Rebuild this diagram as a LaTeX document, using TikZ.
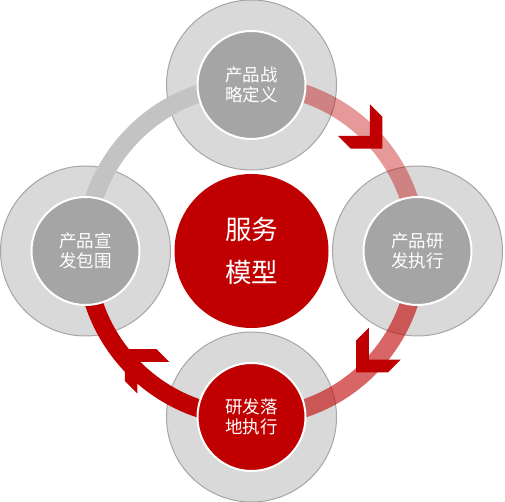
\documentclass[tikz,border=0pt]{standalone}
\usepackage{fontspec}
\usetikzlibrary{calc}
\newfontfamily\cjk{Noto Sans CJK SC}
\definecolor{myred}{HTML}{C00000}
\definecolor{outergray}{HTML}{D9D9D9}
\definecolor{bordergray}{HTML}{A6A6A6}
\definecolor{innergray}{HTML}{A5A5A5}
\definecolor{ringgray}{HTML}{C3C3C3}
\begin{document}
\begin{tikzpicture}[x=1pt,y=1pt,
  outerc/.style={circle, minimum size=170pt, inner sep=0pt, fill=outergray, draw=bordergray, line width=1pt},
  innerc/.style={circle, minimum size=108pt, inner sep=0pt, fill=innergray, draw=white, line width=2pt,
     text=white, align=center, font=\cjk\fontsize{17.5}{20}\selectfont},
  ring/.style={line width=18pt},
  chev/.style={fill=myred, draw=none},
]
\useasboundingbox (0,0) rectangle (505,502);
\coordinate (C) at (251.5,251);
% outer circles
\node[outerc] (oT) at (251.5,417) {};
\node[outerc] (oR) at (417.5,251) {};
\node[outerc] (oB) at (251.5,85) {};
\node[outerc] (oL) at (85.5,251) {};
% ring arcs
\draw[ring, ringgray] (oT.center) arc[start angle=90, end angle=180, radius=166];
\draw[ring, myred, opacity=0.4] (oT.center) arc[start angle=90, end angle=0, radius=166];
\draw[ring, myred, opacity=0.6] (oR.center) arc[start angle=0, end angle=-90, radius=166];
\draw[ring, myred] (oB.center) arc[start angle=-90, end angle=-180, radius=166];
% inner circles
\node[innerc] (iT) at (oT.center) {产品战\\略定义};
\node[innerc] (iR) at (oR.center) {产品研\\发执行};
\node[innerc, fill=myred] (iB) at (oB.center) {研发落\\地执行};
\node[innerc] (iL) at (oL.center) {产品宣\\发包围};
% center
\node[circle, minimum size=154pt, inner sep=0pt, fill=myred, text=white, align=center,
      font=\cjk\fontsize{26.5}{43}\selectfont] (center) at (C) {服务\\模型};
% chevrons
\foreach \ang/\rad/\rot in {45/165/-45, -42/160/-135, -135/159/135}{
  \begin{scope}[shift={($(C)+(\ang:\rad)$)}, rotate=\rot]
    \fill[chev] (-20.25,22.5) -- (-2.25,22.5) -- (20.25,0) -- (-2.25,-22.5) -- (-20.25,-22.5) -- (2.25,0) -- cycle;
  \end{scope}
}
\end{tikzpicture}
\end{document}
